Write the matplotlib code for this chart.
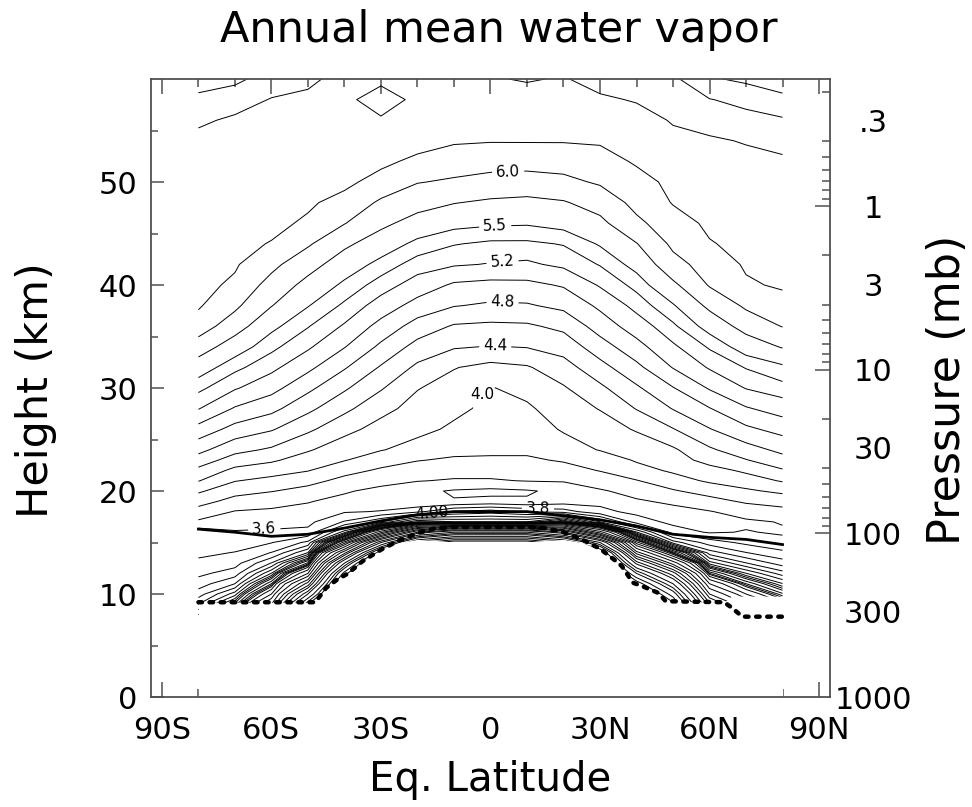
import numpy as np
import matplotlib
matplotlib.use("Agg")
import matplotlib.pyplot as plt
from matplotlib.ticker import NullFormatter

# water vapour (ppmv) on latitude columns and height rows (km)
lats = [-80, -70, -60, -50, -40, -30, -20, -10, 0, 10, 20, 30, 40, 50, 60, 70, 80]
heights = [8, 9, 10, 11, 12, 13, 14, 15, 16, 17, 18, 19, 20, 21, 22, 23, 24,
           26, 28, 30, 32, 34, 36, 38, 40, 42, 44, 46, 48, 50, 52, 54, 56, 58, 60]
vapor = [
    [5.0, 6.5, 14, 120, 300, 300, 300, 300, 300, 300, 300, 300, 300, 160, 25, 14, 9],
    [4.6, 5.6, 10, 60, 250, 300, 300, 300, 300, 300, 300, 300, 250, 110, 18, 10, 7],
    [4.3, 4.9, 7.5, 30, 200, 300, 300, 300, 300, 300, 300, 300, 200, 70, 12, 7.5, 5.8],
    [4.1, 4.4, 6, 15, 150, 300, 300, 300, 300, 300, 300, 300, 120, 40, 8.5, 6, 5.01],
    [3.95, 4.1, 5.01, 8.5, 90, 300, 300, 300, 300, 300, 300, 300, 60, 22, 6.2, 5.01, 4.5],
    [3.85, 3.92, 4.41, 5.8, 40, 300, 300, 300, 300, 300, 300, 200, 28, 11, 4.9, 4.41, 4.1],
    [3.75, 3.81, 4.01, 4.61, 16, 100, 300, 300, 300, 300, 250, 120, 13, 6.2, 4.3, 4.01, 3.85],
    [3.7, 3.7, 3.79, 4.05, 7, 30, 120, 200, 200, 200, 120, 40, 7, 4.3, 3.9, 3.75, 3.65],
    [3.62, 3.61, 3.62, 3.65, 4.5, 8, 25, 40, 40, 40, 25, 9, 4.62, 3.7, 3.58, 3.61, 3.58],
    [3.57, 3.55, 3.55, 3.55, 3.82, 4.21, 5.01, 4.81, 4.81, 4.81, 5.5, 4.41, 3.7, 3.55, 3.52, 3.57, 3.61],
    [3.72, 3.59, 3.57, 3.55, 3.58, 3.61, 3.75, 4.02, 4.1, 3.98, 3.9, 3.65, 3.55, 3.55, 3.59, 3.68, 3.73],
    [3.88, 3.73, 3.67, 3.61, 3.55, 3.5, 3.42, 3.41, 3.45, 3.42, 3.5, 3.55, 3.58, 3.63, 3.73, 3.83, 3.89],
    [4.03, 3.87, 3.81, 3.73, 3.62, 3.55, 3.45, 3.38, 3.35, 3.38, 3.45, 3.58, 3.66, 3.78, 3.88, 3.97, 4.04],
    [4.21, 4.01, 3.94, 3.87, 3.74, 3.66, 3.61, 3.58, 3.58, 3.61, 3.62, 3.69, 3.79, 3.92, 4.03, 4.1, 4.22],
    [4.35, 4.15, 4.09, 4.01, 3.87, 3.77, 3.7, 3.68, 3.68, 3.69, 3.72, 3.81, 3.93, 4.03, 4.12, 4.24, 4.38],
    [4.51, 4.31, 4.23, 4.11, 4.01, 3.89, 3.81, 3.77, 3.77, 3.77, 3.82, 3.89, 4.02, 4.1, 4.28, 4.39, 4.53],
    [4.66, 4.46, 4.37, 4.22, 4.09, 4.01, 3.93, 3.86, 3.84, 3.84, 3.91, 4.01, 4.07, 4.17, 4.37, 4.52, 4.65],
    [4.93, 4.73, 4.62, 4.44, 4.26, 4.13, 4.05, 3.97, 3.92, 3.9, 4.02, 4.1, 4.22, 4.39, 4.59, 4.76, 4.87],
    [5.21, 4.98, 4.86, 4.65, 4.45, 4.26, 4.13, 4.04, 3.96, 3.97, 4.1, 4.21, 4.41, 4.61, 4.79, 4.98, 5.09],
    [5.39, 5.22, 5.07, 4.85, 4.63, 4.42, 4.21, 4.12, 3.99, 4.06, 4.18, 4.36, 4.57, 4.79, 5.02, 5.21, 5.3],
    [5.61, 5.39, 5.25, 5.05, 4.82, 4.58, 4.36, 4.21, 4.14, 4.18, 4.32, 4.53, 4.75, 5.01, 5.22, 5.36, 5.46],
    [5.89, 5.61, 5.39, 5.23, 5.01, 4.76, 4.53, 4.42, 4.39, 4.41, 4.48, 4.71, 4.93, 5.17, 5.37, 5.6, 5.77],
    [6.12, 5.87, 5.55, 5.36, 5.18, 4.93, 4.72, 4.58, 4.56, 4.57, 4.65, 4.89, 5.1, 5.32, 5.58, 5.85, 6.01],
    [6.22, 6.05, 5.76, 5.51, 5.32, 5.12, 4.92, 4.81, 4.77, 4.78, 4.85, 5.04, 5.26, 5.48, 5.81, 6.04, 6.14],
    [6.25, 6.17, 5.92, 5.67, 5.46, 5.28, 5.12, 4.97, 4.94, 4.95, 5.02, 5.22, 5.4, 5.7, 6.02, 6.18, 6.22],
    [6.27, 6.22, 6.06, 5.85, 5.62, 5.44, 5.28, 5.22, 5.19, 5.17, 5.24, 5.36, 5.57, 5.92, 6.1, 6.22, 6.23],
    [6.28, 6.25, 6.19, 6.03, 5.8, 5.62, 5.45, 5.36, 5.32, 5.32, 5.36, 5.52, 5.74, 6.05, 6.19, 6.24, 6.24],
    [6.3, 6.28, 6.25, 6.17, 6.01, 5.81, 5.65, 5.56, 5.53, 5.52, 5.57, 5.69, 5.95, 6.13, 6.23, 6.25, 6.24],
    [6.3, 6.3, 6.28, 6.23, 6.13, 5.97, 5.85, 5.76, 5.71, 5.69, 5.73, 5.85, 6.07, 6.21, 6.25, 6.25, 6.24],
    [6.3, 6.3, 6.3, 6.26, 6.25, 6.12, 6.01, 5.97, 5.93, 5.9, 5.94, 6.03, 6.14, 6.24, 6.25, 6.25, 6.23],
    [6.28, 6.3, 6.3, 6.27, 6.3, 6.25, 6.15, 6.11, 6.08, 6.09, 6.1, 6.13, 6.22, 6.25, 6.24, 6.24, 6.22],
    [6.25, 6.27, 6.28, 6.27, 6.32, 6.3, 6.29, 6.22, 6.21, 6.21, 6.21, 6.22, 6.27, 6.23, 6.22, 6.19, 6.16],
    [6.17, 6.23, 6.25, 6.26, 6.33, 6.38, 6.33, 6.33, 6.3, 6.27, 6.28, 6.26, 6.25, 6.19, 6.14, 6.08, 6.03],
    [6.05, 6.12, 6.21, 6.23, 6.36, 6.48, 6.36, 6.33, 6.3, 6.25, 6.26, 6.22, 6.19, 6.13, 6.01, 5.93, 5.82],
    [5.9, 5.95, 6.1, 6.17, 6.25, 6.36, 6.3, 6.28, 6.21, 6.19, 6.21, 6.15, 6.1, 6.05, 5.78, 5.7, 5.6],
]

# unlabelled contour levels, labelled levels and the 4.0 level (labelled twice)
plain_levels = [3.4, 4.2, 4.6, 5.0, 5.35, 5.75, 6.2, 6.4,
                6.8, 7.5, 8.5, 10, 12, 14, 17, 20, 25, 30, 40, 50, 60, 80, 100, 130, 160, 200, 250]
label_levels = [3.6, 3.8, 4.4, 4.8, 5.2, 5.5, 6.0]
label_spots = [(-62, 16.7), (13, 18.3), (1.3, 34.1), (3.3, 38.3), (3.3, 42.1), (1.3, 45.7), (4.9, 50.5)]
four = [4.0]

# tropopause height (km)
trop_km = [16.3, 16.0, 15.6, 15.8, 16.4, 17.1, 17.7, 18.0, 18.0, 18.0, 17.6, 17.2, 16.6, 15.8, 15.5, 15.3, 14.8]

# dashed boundary
edge_lat = [-80, -48, -45, -42, -39, -35, -30, -25, -20, -15, -10, 0, 10, 15, 20, 25, 30,
            34, 36, 39, 42, 46, 48, 64, 66, 69, 80]
edge_km = [9.2, 9.2, 10.6, 11.4, 12.0, 13.2, 14.3, 15.2, 15.9, 16.4, 16.5, 16.5, 16.5, 16.4, 16.0,
           15.3, 14.4, 13.3, 12.7, 11.1, 10.7, 10.1, 9.3, 9.2, 8.7, 7.8, 7.8]

# bottom of the data (nothing drawn below)
floor_lat = [-80, -48, -45, -42, -39, -35, -30, -25, -20, -15, -12, 12, 15, 20, 25, 30,
             34, 36, 39, 42, 46, 48, 64, 66, 80]
floor_km = [9.2, 9.2, 10.6, 11.4, 12.0, 13.2, 14.3, 15.0, 15.3, 15.2, 15.1, 15.1, 15.2, 15.3,
            15.0, 14.3, 13.3, 12.7, 11.1, 10.7, 10.1, 9.3, 9.2, 9.8, 9.8]

lat_ticks = [-90, -60, -30, 0, 30, 60, 90]
lat_labels = ['90S', '60S', '30S', '0', '30N', '60N', '90N']
p_ticks = [1000, 300, 100, 30, 10, 3, 1, 0.3]
p_labels = ['1000', '300', '100', '30', '10', '3', '1', '.3']
p_minor = [0.2, 0.4, 0.5, 0.6, 0.7, 0.8, 0.9, 2, 4, 5, 6, 7, 8, 9,
           20, 40, 50, 60, 70, 80, 90]
p_major = [1, 10, 100]
scale_height = 6.9

frame = '#505050'

fig = plt.figure(figsize=(9.72, 8.07), dpi=100)
ax = fig.add_axes([0.1553, 0.1363, 0.6986, 0.7658])
ax.set_xlim(-93, 93)
ax.set_ylim(0, 60)

# contour in log space so the steep tropospheric gradient spreads evenly
log_field = np.log(np.array(vapor))
line_kw = dict(colors='black', linewidths=0.7, linestyles='solid', zorder=2)
cs = ax.contour(lats, heights, log_field, levels=np.log(plain_levels), **line_kw)
cs_lab = ax.contour(lats, heights, log_field, levels=np.log(label_levels), **line_kw)
cs_four = ax.contour(lats, heights, log_field, levels=np.log(four), **line_kw)
ax.fill_between(floor_lat, 0, floor_km, color='white', lw=0, zorder=2.2)
ax.plot(lats, trop_km, color='black', lw=2.0, zorder=3)
ax.plot(edge_lat, edge_km, color='black', lw=3.2, linestyle=(0, (0.8, 1.7)),
        dash_capstyle='round', zorder=3.5)


def one_place(v):
    return f'{np.exp(v):.1f}'


def two_places(v):
    return f'{np.exp(v):.2f}'


cs_lab.clabel(manual=label_spots, fmt=one_place, inline=True, inline_spacing=4, fontsize=11)
apex = cs_four.clabel(manual=[(-3.5, 29.7)], fmt=one_place, inline=True, inline_spacing=4, fontsize=11)
for t in apex:
    t.set_rotation(0)
cs_four.clabel(manual=[(-16, 17.9)], fmt=two_places, inline=True, inline_spacing=3, fontsize=11)

ax.set_xticks(lat_ticks)
ax.set_xticklabels(lat_labels)
ax.set_xticks(range(-90, 91, 10), minor=True)
ax.set_yticks(range(0, 51, 10))
ax.set_yticks(range(5, 60, 10), minor=True)
ax.tick_params(axis='x', which='both', direction='in', top=True, bottom=True,
               labelsize=22, pad=14, color=frame, width=1.1)
ax.tick_params(axis='x', which='major', length=11)
ax.tick_params(axis='x', which='minor', length=6)
ax.tick_params(axis='y', which='both', direction='in', left=True, right=False,
               labelsize=22, pad=10, color=frame, width=1.1)
ax.tick_params(axis='y', which='major', length=9)
ax.tick_params(axis='y', which='minor', length=5)
for s in ax.spines.values():
    s.set_color(frame)
    s.set_linewidth(1.3)

# pressure scale on the right
p_top = 1000 * np.exp(-60 / scale_height)
ax2 = ax.twinx()
ax2.set_yscale('log')
ax2.set_ylim(1000, p_top)
ax2.set_yticks(p_ticks)
ax2.set_yticklabels(p_labels)
ax2.set_yticks(p_minor, minor=True)
ax2.yaxis.set_minor_formatter(NullFormatter())
ax2.tick_params(axis='y', which='major', length=0, labelsize=22, pad=31)
ax2.tick_params(axis='y', which='minor', direction='in', length=6, color=frame, width=1.1)
for t in ax2.get_yticklabels():
    t.set_ha('center')
for s in ax2.spines.values():
    s.set_visible(False)

ax3 = ax.twinx()
ax3.set_yscale('log')
ax3.set_ylim(1000, p_top)
ax3.set_yticks(p_major)
ax3.yaxis.set_major_formatter(NullFormatter())
ax3.yaxis.set_minor_formatter(NullFormatter())
ax3.tick_params(axis='y', which='minor', length=0)
ax3.tick_params(axis='y', which='major', direction='in', length=11, color=frame, width=1.1)
for s in ax3.spines.values():
    s.set_visible(False)

fig.text(0.513, 0.963, 'Annual mean water vapor', ha='center', va='center', fontsize=31)
fig.text(0.504, 1 - 780 / 807, 'Eq. Latitude', ha='center', va='center', fontsize=29)
fig.text(36 / 972, 1 - 390 / 807, 'Height (km)', rotation=90, ha='center', va='center', fontsize=31)
fig.text(947 / 972, 1 - 390 / 807, 'Pressure (mb)', rotation=90, ha='center', va='center', fontsize=32)

fig.savefig('out.png', dpi=100)
